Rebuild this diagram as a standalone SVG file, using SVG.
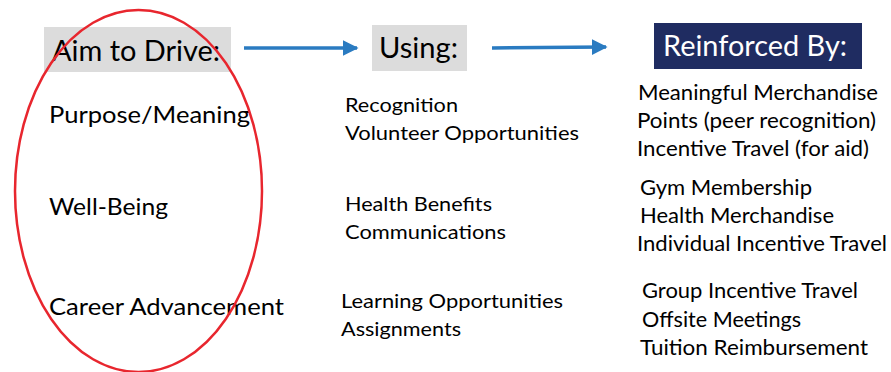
<svg xmlns="http://www.w3.org/2000/svg" width="891" height="372" viewBox="0 0 891 372">
<style>
text{font-family:Lato,"Open Sans","Liberation Sans",sans-serif;fill:#000}
.hd{font-size:29px}
.l{font-size:23px}
.m{font-size:20px}
.r{font-size:21px}
.gray{fill:#dcdcdc}
.navy{fill:#1f2c61}
.conn{stroke:#2a7bc1;stroke-width:3.5;fill:none;marker-end:url(#ah)}
</style>
<defs>
<marker id="ah" viewBox="0 0 10 10" refX="9" refY="5" markerWidth="4.5" markerHeight="4.5" orient="auto" markerUnits="strokeWidth">
<path d="M0,0 L10,5 L0,10 z" fill="#2a7bc1"/>
</marker>
</defs>
<rect width="891" height="372" fill="#fff"/>
<g id="aim">
<rect class="gray" x="44" y="27" width="187" height="45"/>
<text class="hd" x="52" y="61" textLength="168" lengthAdjust="spacingAndGlyphs">Aim to Drive:</text>
</g>
<g id="using">
<rect class="gray" x="372" y="25" width="95" height="46"/>
<text class="hd" x="379" y="58" textLength="79" lengthAdjust="spacingAndGlyphs">Using:</text>
</g>
<g id="reinforced">
<rect class="navy" x="654" y="23" width="208" height="46"/>
<text class="hd" x="663" y="56" textLength="184" lengthAdjust="spacingAndGlyphs" style="fill:#fff">Reinforced By:</text>
</g>
<g id="connectors">
<line class="conn" x1="244" y1="48" x2="357" y2="48"/>
<line class="conn" x1="492" y1="48" x2="606" y2="47"/>
</g>
<g id="drivers">
<text class="l" x="49" y="123" textLength="201" lengthAdjust="spacingAndGlyphs">Purpose/Meaning</text>
<text class="l" x="49" y="215" textLength="119" lengthAdjust="spacingAndGlyphs">Well-Being</text>
<text class="l" x="49" y="315" textLength="235" lengthAdjust="spacingAndGlyphs">Career Advancement</text>
</g>
<g id="means">
<text class="m" x="345" y="112" textLength="113" lengthAdjust="spacingAndGlyphs">Recognition</text>
<text class="m" x="345" y="140" textLength="234" lengthAdjust="spacingAndGlyphs">Volunteer Opportunities</text>
<text class="m" x="345" y="211" textLength="147" lengthAdjust="spacingAndGlyphs">Health Benefits</text>
<text class="m" x="345" y="239" textLength="161" lengthAdjust="spacingAndGlyphs">Communications</text>
<text class="m" x="341" y="308" textLength="222" lengthAdjust="spacingAndGlyphs">Learning Opportunities</text>
<text class="m" x="341" y="336" textLength="120" lengthAdjust="spacingAndGlyphs">Assignments</text>
</g>
<g id="reinforcers">
<text class="r" x="638" y="100" textLength="240" lengthAdjust="spacingAndGlyphs">Meaningful Merchandise</text>
<text class="r" x="637" y="128" textLength="239" lengthAdjust="spacingAndGlyphs">Points (peer recognition)</text>
<text class="r" x="637" y="156" textLength="232" lengthAdjust="spacingAndGlyphs">Incentive Travel (for aid)</text>
<text class="r" x="640" y="195" textLength="172" lengthAdjust="spacingAndGlyphs">Gym Membership</text>
<text class="r" x="640" y="223" textLength="194" lengthAdjust="spacingAndGlyphs">Health Merchandise</text>
<text class="r" x="637" y="251" textLength="250" lengthAdjust="spacingAndGlyphs">Individual Incentive Travel</text>
<text class="r" x="642" y="298" textLength="216" lengthAdjust="spacingAndGlyphs">Group Incentive Travel</text>
<text class="r" x="642" y="327" textLength="159" lengthAdjust="spacingAndGlyphs">Offsite Meetings</text>
<text class="r" x="640" y="355" textLength="228" lengthAdjust="spacingAndGlyphs">Tuition Reimbursement</text>
</g>
<g id="highlight">
<ellipse cx="138.5" cy="191" rx="123.5" ry="181" fill="none" stroke="#e8262e" stroke-width="2.5"/>
</g>
</svg>
